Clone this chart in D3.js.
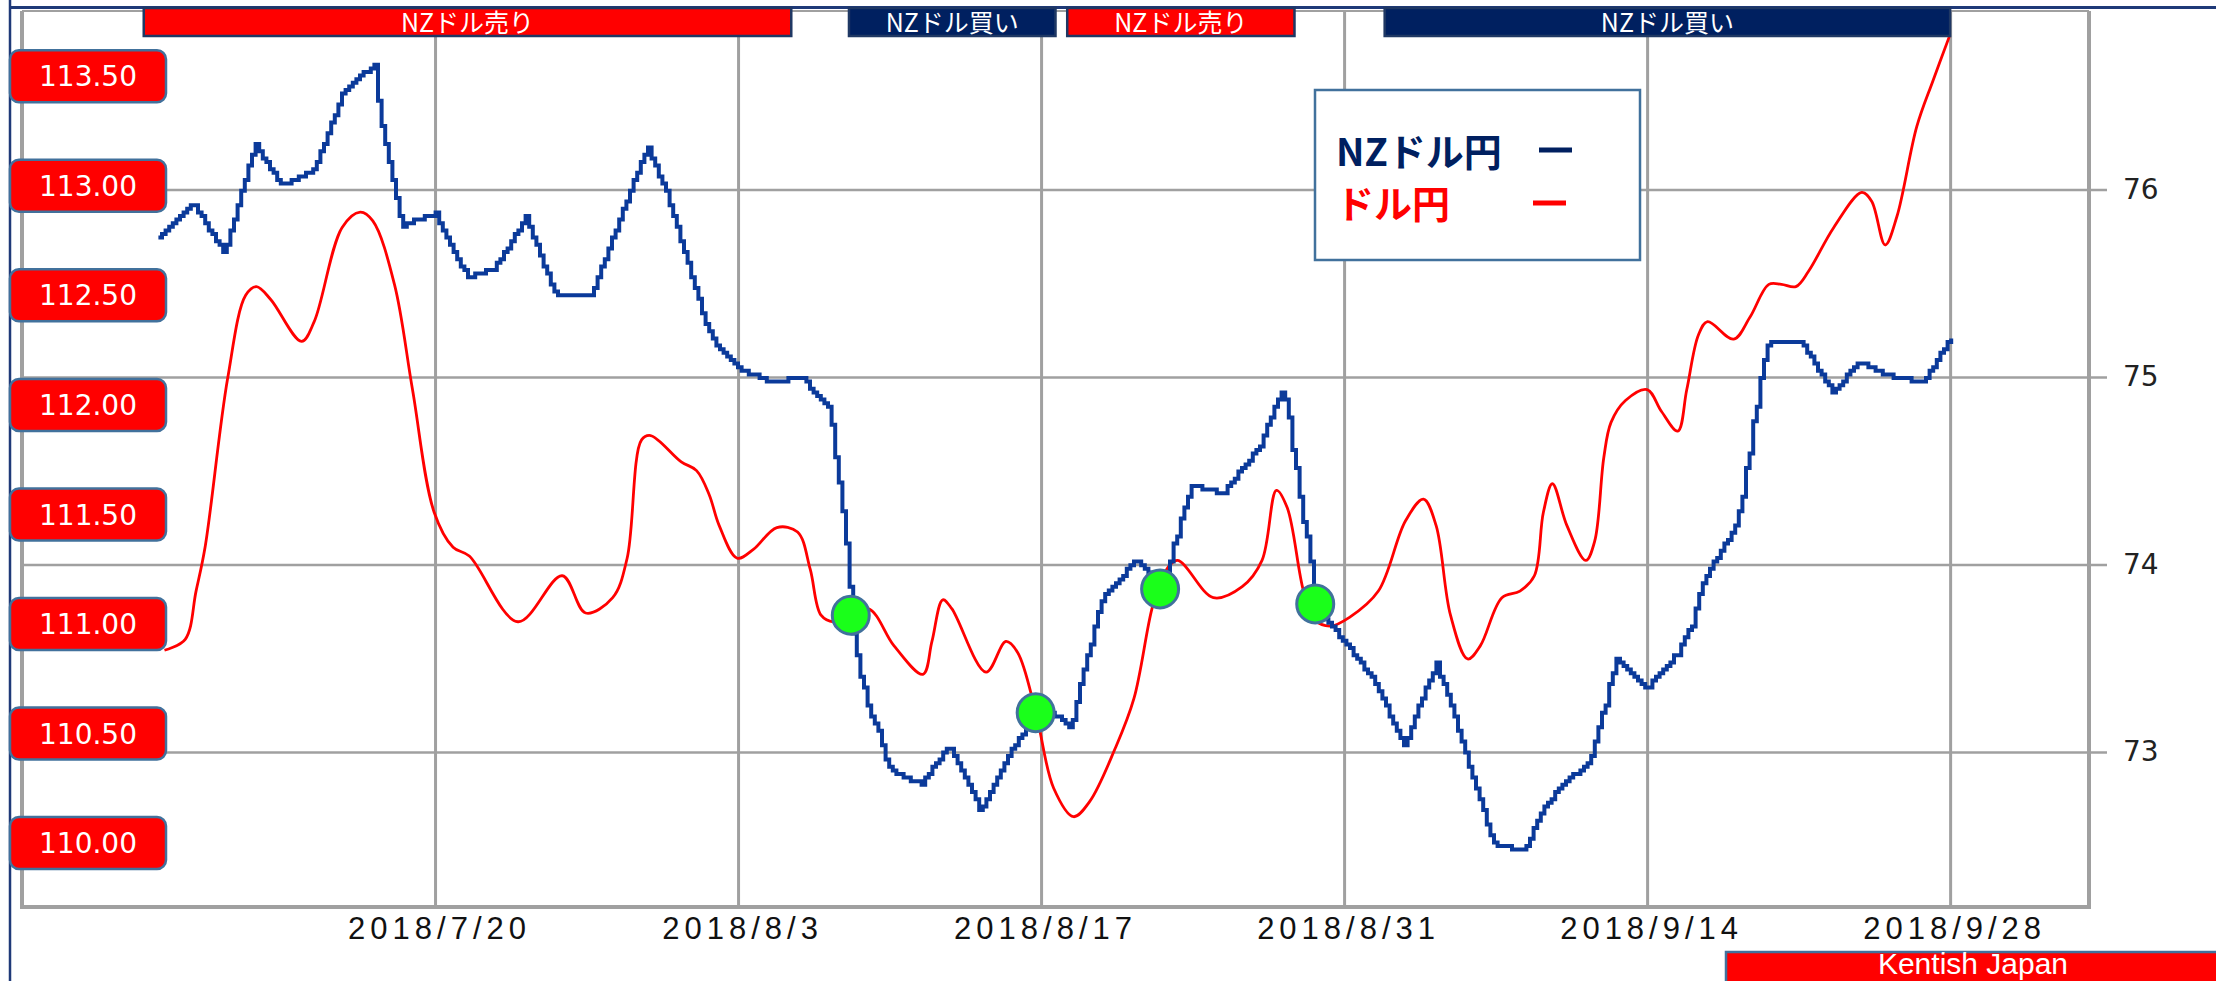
<!DOCTYPE html>
<html>
<head>
<meta charset="utf-8">
<script src="https://cdn.jsdelivr.net/npm/d3@7"></script>
<style>
  body { margin: 0; background: #fff; }
  svg { display: block; }
</style>
</head>
<body>
<script>
const width = 2216, height = 981;
const plot = {left: 22, right: 2089, top: 11, bottom: 907};

// axis ticks
const tickDates = ["2018-07-20", "2018-08-03", "2018-08-17", "2018-08-31", "2018-09-14", "2018-09-28"];
const tickLabels = ["2018/7/20", "2018/8/3", "2018/8/17", "2018/8/31", "2018/9/14", "2018/9/28"];
const nzdTicks = [73, 74, 75, 76];
const usdTicks = [113.5, 113.0, 112.5, 112.0, 111.5, 111.0, 110.5, 110.0];

// NZドル円 (right axis)
const nzdTimes = [
  "2018-07-07 07:00", "2018-07-08 19:00", "2018-07-10 06:00", "2018-07-11 16:00", "2018-07-12 22:00",
  "2018-07-14 10:00", "2018-07-15 19:00", "2018-07-17 03:00", "2018-07-17 13:00", "2018-07-18 11:00",
  "2018-07-19 23:00", "2018-07-21 12:00", "2018-07-22 18:00", "2018-07-24 04:00", "2018-07-25 14:00",
  "2018-07-27 04:00", "2018-07-29 19:00", "2018-07-30 15:00", "2018-08-01 13:00", "2018-08-01 21:00",
  "2018-08-02 23:00", "2018-08-04 13:00", "2018-08-05 22:00", "2018-08-07 02:00", "2018-08-07 06:00",
  "2018-08-07 10:00", "2018-08-07 14:00", "2018-08-07 19:00", "2018-08-07 23:00", "2018-08-08 03:00",
  "2018-08-08 10:00", "2018-08-08 18:00", "2018-08-09 04:00", "2018-08-09 12:00", "2018-08-09 20:00",
  "2018-08-10 05:00", "2018-08-11 11:00", "2018-08-12 17:00", "2018-08-13 13:00", "2018-08-14 05:00",
  "2018-08-14 21:00", "2018-08-16 02:00", "2018-08-16 16:00", "2018-08-17 18:00", "2018-08-18 09:00",
  "2018-08-18 20:00", "2018-08-19 06:00", "2018-08-19 16:00", "2018-08-20 00:00", "2018-08-21 09:00",
  "2018-08-21 23:00", "2018-08-22 19:00", "2018-08-23 05:00", "2018-08-23 23:00", "2018-08-25 09:00",
  "2018-08-27 02:00", "2018-08-27 13:00", "2018-08-28 04:00", "2018-08-28 11:00", "2018-08-28 17:00",
  "2018-08-28 23:00", "2018-08-29 05:00", "2018-08-29 11:00", "2018-08-29 13:00", "2018-08-30 13:00",
  "2018-08-31 02:00", "2018-09-01 10:00", "2018-09-02 06:00", "2018-09-02 19:00", "2018-09-03 06:00",
  "2018-09-04 06:00", "2018-09-04 22:00", "2018-09-05 15:00", "2018-09-06 07:00", "2018-09-06 21:00",
  "2018-09-08 07:00", "2018-09-09 03:00", "2018-09-09 23:00", "2018-09-11 08:00", "2018-09-12 00:00",
  "2018-09-12 14:00", "2018-09-14 00:00", "2018-09-15 08:00", "2018-09-16 00:00", "2018-09-16 16:00",
  "2018-09-17 05:00", "2018-09-18 03:00", "2018-09-18 09:00", "2018-09-18 16:00", "2018-09-19 00:00",
  "2018-09-19 07:00", "2018-09-19 15:00", "2018-09-21 02:00", "2018-09-22 13:00", "2018-09-23 20:00",
  "2018-09-25 02:00", "2018-09-26 17:00", "2018-09-28 00:00"];
const nzdValues = [
  75.75, 75.93, 75.66, 76.24, 76.02,
  76.11, 76.53, 76.66, 76.33, 75.81,
  75.87, 75.53, 75.58, 75.85, 75.43,
  75.43, 76.23, 76.00, 75.27, 75.19,
  75.05, 74.97, 75.00, 74.84, 74.75,
  74.58, 74.43, 74.28, 74.12, 73.88,
  73.52, 73.34, 73.19, 73.10, 72.95,
  72.89, 72.83, 73.03, 72.85, 72.68,
  72.85, 73.10, 73.27, 73.19, 73.12,
  73.38, 73.58, 73.77, 73.85, 74.02,
  73.95, 73.94, 74.15, 74.42, 74.38,
  74.63, 74.78, 74.93, 74.78, 74.51,
  74.36, 74.15, 74.00, 73.79, 73.65,
  73.58, 73.37, 73.16, 73.03, 73.19,
  73.47, 73.25, 72.98, 72.74, 72.51,
  72.47, 72.68, 72.82, 72.94, 73.25,
  73.50, 73.34, 73.52, 73.67, 73.94,
  74.04, 74.21, 74.37, 74.60, 74.84,
  75.03, 75.19, 75.19, 74.92, 75.08,
  75.01, 74.97, 75.20];

// ドル円 (left labels)
const usdTimes = [
  "2018-07-07 12:00", "2018-07-08 11:00", "2018-07-08 23:00", "2018-07-09 09:00", "2018-07-10 10:00",
  "2018-07-11 06:00", "2018-07-11 18:00", "2018-07-12 10:00", "2018-07-13 20:00", "2018-07-14 10:00",
  "2018-07-15 17:00", "2018-07-16 13:00", "2018-07-17 03:00", "2018-07-18 03:00", "2018-07-18 23:00",
  "2018-07-19 23:00", "2018-07-20 20:00", "2018-07-21 14:00", "2018-07-23 20:00", "2018-07-25 21:00",
  "2018-07-26 23:00", "2018-07-28 05:00", "2018-07-28 21:00", "2018-07-29 13:00", "2018-07-29 23:00",
  "2018-07-31 09:00", "2018-08-01 02:00", "2018-08-01 16:00", "2018-08-02 03:00", "2018-08-02 23:00",
  "2018-08-03 17:00", "2018-08-04 19:00", "2018-08-05 18:00", "2018-08-06 08:00", "2018-08-06 20:00",
  "2018-08-07 10:00", "2018-08-09 00:00", "2018-08-10 05:00", "2018-08-11 13:00", "2018-08-11 23:00",
  "2018-08-12 11:00", "2018-08-12 21:00", "2018-08-14 11:00", "2018-08-15 09:00", "2018-08-15 22:00",
  "2018-08-16 18:00", "2018-08-17 14:00", "2018-08-18 12:00", "2018-08-19 06:00", "2018-08-20 10:00",
  "2018-08-21 07:00", "2018-08-22 03:00", "2018-08-22 15:00", "2018-08-23 07:00", "2018-08-24 23:00",
  "2018-08-26 07:00", "2018-08-27 05:00", "2018-08-27 21:00", "2018-08-28 09:00", "2018-08-29 03:00",
  "2018-08-29 15:00", "2018-08-30 09:00", "2018-08-31 06:00", "2018-09-01 14:00", "2018-09-02 20:00",
  "2018-09-03 16:00", "2018-09-04 06:00", "2018-09-04 22:00", "2018-09-05 17:00", "2018-09-06 07:00",
  "2018-09-07 07:00", "2018-09-08 03:00", "2018-09-08 19:00", "2018-09-09 05:00", "2018-09-09 15:00",
  "2018-09-10 07:00", "2018-09-11 04:00", "2018-09-11 14:00", "2018-09-12 00:00", "2018-09-12 08:00",
  "2018-09-13 00:00", "2018-09-14 00:00", "2018-09-14 16:00", "2018-09-15 10:00", "2018-09-15 20:00",
  "2018-09-16 09:00", "2018-09-16 19:00", "2018-09-18 00:00", "2018-09-18 18:00", "2018-09-19 15:00",
  "2018-09-20 05:00", "2018-09-20 21:00", "2018-09-21 11:00", "2018-09-22 15:00", "2018-09-23 22:00",
  "2018-09-24 09:00", "2018-09-25 00:00", "2018-09-25 13:00", "2018-09-26 11:00", "2018-09-27 05:00",
  "2018-09-27 23:00"];
const usdValues = [
  110.88, 110.93, 111.15, 111.35, 112.12,
  112.50, 112.54, 112.48, 112.29, 112.38,
  112.81, 112.88, 112.84, 112.55, 112.07,
  111.51, 111.35, 111.31, 111.01, 111.22,
  111.05, 111.12, 111.30, 111.84, 111.86,
  111.74, 111.70, 111.59, 111.45, 111.30,
  111.34, 111.44, 111.42, 111.25, 111.04,
  111.01, 111.07, 110.90, 110.77, 110.92,
  111.11, 111.07, 110.78, 110.92, 110.87,
  110.60, 110.25, 110.12, 110.19, 110.43,
  110.66, 111.07, 111.22, 111.29, 111.12,
  111.17, 111.29, 111.61, 111.53, 111.15,
  111.02, 110.99, 111.03, 111.15, 111.47,
  111.57, 111.45, 111.04, 110.84, 110.90,
  111.12, 111.15, 111.22, 111.51, 111.64,
  111.45, 111.29, 111.38, 111.76, 111.92,
  112.02, 112.07, 111.97, 111.88, 112.07,
  112.32, 112.38, 112.30, 112.40, 112.55,
  112.55, 112.54, 112.61, 112.81, 112.97,
  112.93, 112.73, 112.86, 113.27, 113.48,
  113.68];

// 売買シグナル期間
const signalStarts = ["2018-07-06 13:00", "2018-08-08 03:00", "2018-08-18 05:00", "2018-09-01 21:00"];
const signalEnds = ["2018-08-05 11:00", "2018-08-17 16:00", "2018-08-28 17:00", "2018-09-28 00:00"];
const signalLabels = ["NZドル売り", "NZドル買い", "NZドル売り", "NZドル買い"];
const signalSell = [true, false, true, false];

// クロス地点
const markTimes = ["2018-08-08 05:00", "2018-08-16 18:00", "2018-08-22 12:00", "2018-08-29 16:00"];
const markValues = [73.73, 73.21, 73.87, 73.79];

const navy = "#002060", red = "#ff0000", blue = "#0b3a9a", grid = "#a0a0a0", steel = "#41719c";
const parseT = d3.timeParse("%Y-%m-%d %H:%M");
const parseD = d3.timeParse("%Y-%m-%d");

const x = d3.scaleTime()
    .domain([new Date(2018, 5, 30, 22), new Date(2018, 9, 4, 10)])
    .range([plot.left, plot.right]);
const yN = d3.scaleLinear().domain([73, 76]).range([752, 189.5]);
const yU = d3.scaleLinear().domain([110, 113.5]).range([843, 76.3]);

// blocky line like the low-res original
function PixelStep(context) { this._context = context; }
PixelStep.prototype = {
  areaStart() {}, areaEnd() {},
  lineStart() { this._x = NaN; },
  lineEnd() {},
  point(px, py) {
    const p = 3.6, q = v => Math.round(v / p) * p, c = this._context;
    if (isNaN(this._x)) {
      this._cy = q(py);
      c.moveTo(q(px), this._cy);
    } else {
      const k0 = Math.round(this._x / p), k1 = Math.round(px / p);
      for (let k = k0 + 1; k <= k1; k++) {
        const t = Math.max(0, Math.min(1, (k * p - this._x) / (px - this._x)));
        const ny = q(this._y + t * (py - this._y));
        c.lineTo(k * p, this._cy);
        c.lineTo(k * p, ny);
        this._cy = ny;
      }
      if (k1 === k0) { this._cy = q(py); c.lineTo(k1 * p, this._cy); }
    }
    this._x = px; this._y = py;
  }
};
const curvePixel = ctx => new PixelStep(ctx);

const svg = d3.select("body").append("svg")
    .attr("width", width).attr("height", height)
    .attr("viewBox", [0, 0, width, height]);

svg.append("rect").attr("width", width).attr("height", height).attr("fill", "#fff");

// gridlines + x labels
const xAxis = svg.append("g")
    .attr("transform", `translate(0,${plot.bottom})`)
    .call(d3.axisBottom(x)
        .tickValues(tickDates.map(parseD))
        .tickFormat((d, i) => tickLabels[i])
        .tickSizeInner(-(plot.bottom - plot.top))
        .tickSizeOuter(0)
        .tickPadding(10));
xAxis.select(".domain").remove();
xAxis.selectAll(".tick line").attr("stroke", grid).attr("stroke-width", 3);
xAxis.selectAll(".tick text")
    .attr("fill", "#111")
    .attr("font-family", "Liberation Sans, Arial, sans-serif")
    .attr("font-size", 31)
    .attr("letter-spacing", 5)
    .attr("dx", 4);

const yAxis = svg.append("g")
    .attr("transform", `translate(${plot.right},0)`)
    .call(d3.axisRight(yN).tickValues(nzdTicks).tickSize(18).tickPadding(16).tickFormat(d3.format("d")));
yAxis.select(".domain").remove();
yAxis.selectAll(".tick line").attr("x1", -(plot.right - plot.left)).attr("stroke", grid).attr("stroke-width", 2.5);
yAxis.selectAll(".tick text")
    .attr("fill", "#222")
    .attr("font-family", "DejaVu Sans, sans-serif")
    .attr("font-size", 28);

// plot frame
const frame = svg.append("g").attr("stroke", grid).attr("fill", "none");
frame.append("line").attr("x1", plot.left).attr("x2", plot.right).attr("y1", plot.top).attr("y2", plot.top).attr("stroke-width", 2);
frame.append("line").attr("x1", plot.left).attr("x2", plot.left).attr("y1", plot.top).attr("y2", plot.bottom + 2).attr("stroke-width", 4);
frame.append("line").attr("x1", plot.right).attr("x2", plot.right).attr("y1", plot.top).attr("y2", plot.bottom + 2).attr("stroke-width", 4);
frame.append("line").attr("x1", plot.left).attr("x2", plot.right + 2).attr("y1", plot.bottom).attr("y2", plot.bottom).attr("stroke-width", 4);

// outer navy frame
svg.append("line").attr("x1", 10).attr("x2", 10).attr("y1", 0).attr("y2", height)
    .attr("stroke", "#1f3a78").attr("stroke-width", 2.5);
svg.append("line").attr("x1", 10).attr("x2", width).attr("y1", 7.5).attr("y2", 7.5)
    .attr("stroke", "#1f3a78").attr("stroke-width", 3);

// series
const usdData = usdTimes.map((t, i) => ({date: parseT(t), value: usdValues[i]}));
const nzdData = nzdTimes.map((t, i) => ({date: parseT(t), value: nzdValues[i]}));

svg.append("path")
    .datum(usdData)
    .attr("fill", "none")
    .attr("stroke", red)
    .attr("stroke-width", 2.8)
    .attr("d", d3.line().x(d => x(d.date)).y(d => yU(d.value)).curve(d3.curveCatmullRom.alpha(0.5)));

svg.append("path")
    .datum(nzdData)
    .attr("fill", "none")
    .attr("stroke", blue)
    .attr("stroke-width", 4)
    .attr("stroke-linejoin", "miter")
    .attr("d", d3.line().x(d => x(d.date)).y(d => yN(d.value)).curve(curvePixel));

// crossing markers
svg.append("g")
  .selectAll("ellipse")
  .data(markTimes)
  .join("ellipse")
    .attr("cx", d => x(parseT(d)))
    .attr("cy", (d, i) => yN(markValues[i]))
    .attr("rx", 18.5)
    .attr("ry", 19)
    .attr("fill", "#1aff1a")
    .attr("stroke", steel)
    .attr("stroke-width", 3);

// left price labels
const lab = svg.append("g")
  .selectAll("g")
  .data(usdTicks)
  .join("g")
    .attr("transform", d => `translate(88,${yU(d)})`);
lab.append("rect")
    .attr("x", -78).attr("y", -26).attr("width", 156).attr("height", 52)
    .attr("rx", 9)
    .attr("fill", red).attr("stroke", steel).attr("stroke-width", 2.5);
lab.append("text")
    .attr("text-anchor", "middle")
    .attr("dy", "0.36em")
    .attr("fill", "#fff")
    .attr("font-family", "DejaVu Sans, Verdana, sans-serif")
    .attr("font-size", 28)
    .text(d => d.toFixed(2));

// signal banners
const ban = svg.append("g")
  .selectAll("g")
  .data(signalLabels)
  .join("g");
ban.append("rect")
    .attr("x", (d, i) => x(parseT(signalStarts[i])))
    .attr("y", 8)
    .attr("width", (d, i) => x(parseT(signalEnds[i])) - x(parseT(signalStarts[i])))
    .attr("height", 28)
    .attr("fill", (d, i) => signalSell[i] ? red : navy)
    .attr("stroke", "#1f3864")
    .attr("stroke-width", 2.5);
ban.append("text")
    .attr("x", (d, i) => (x(parseT(signalStarts[i])) + x(parseT(signalEnds[i]))) / 2)
    .attr("y", 32)
    .attr("text-anchor", "middle")
    .attr("fill", "#fff")
    .attr("font-family", "Noto Sans CJK JP, sans-serif")
    .attr("font-size", 25)
    .text(d => d);

// legend
const leg = svg.append("g");
leg.append("rect").attr("x", 1315).attr("y", 90).attr("width", 325).attr("height", 170)
    .attr("fill", "#fff").attr("stroke", steel).attr("stroke-width", 2.5);
leg.append("text").attr("x", 1336).attr("y", 166)
    .attr("fill", navy).attr("font-family", "Noto Sans CJK JP, sans-serif")
    .attr("font-weight", 700).attr("font-size", 38).text("NZドル円");
leg.append("line").attr("x1", 1539).attr("x2", 1572).attr("y1", 150).attr("y2", 150)
    .attr("stroke", navy).attr("stroke-width", 5);
leg.append("text").attr("x", 1336).attr("y", 218)
    .attr("fill", red).attr("font-family", "Noto Sans CJK JP, sans-serif")
    .attr("font-weight", 700).attr("font-size", 38).text("ドル円");
leg.append("line").attr("x1", 1533).attr("x2", 1566).attr("y1", 203).attr("y2", 203)
    .attr("stroke", red).attr("stroke-width", 5);

// credit
svg.append("rect").attr("x", 1726).attr("y", 952).attr("width", 500).attr("height", 40)
    .attr("fill", red).attr("stroke", steel).attr("stroke-width", 2.5);
svg.append("text").attr("x", 1973).attr("y", 974)
    .attr("text-anchor", "middle").attr("fill", "#fff")
    .attr("font-family", "Liberation Sans, Arial, sans-serif")
    .attr("font-size", 30)
    .text("Kentish Japan");
</script>
</body>
</html>
